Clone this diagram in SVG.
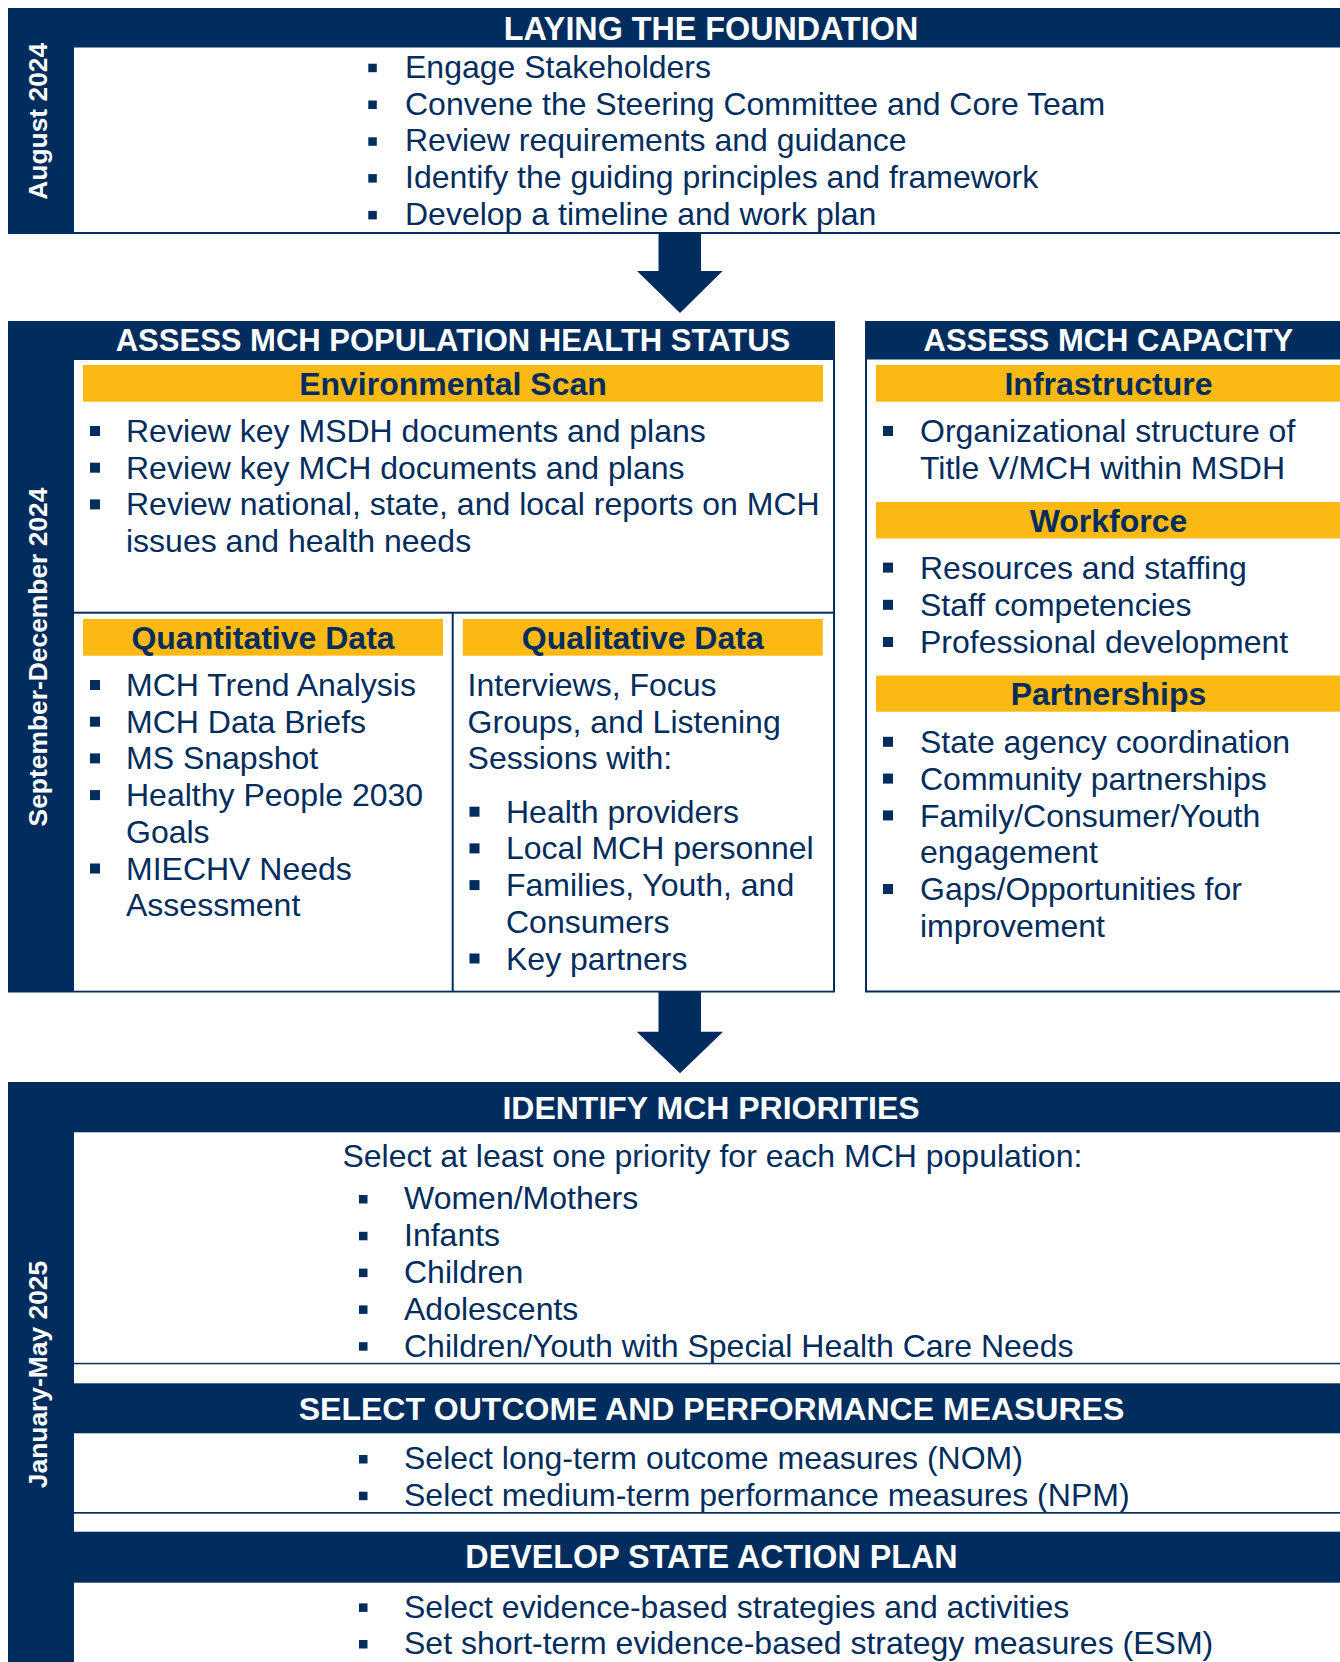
<svg xmlns="http://www.w3.org/2000/svg" width="1340" height="1662" viewBox="0 0 1340 1662">
<style>
.navy{fill:#002D5D}
.white{fill:#FFFFFF}
.yel{fill:#FDB913}
.hd{font-family:"Liberation Sans",Arial,sans-serif;font-weight:bold;fill:#FFFFFF;text-anchor:middle}
.sub{font-family:"Liberation Sans",Arial,sans-serif;font-weight:bold;font-size:32px;fill:#002D5D;text-anchor:middle}
.tx{font-family:"Liberation Sans",Arial,sans-serif;font-size:32px;fill:#002D5D}
.side{font-family:"Liberation Sans",Arial,sans-serif;font-weight:bold;font-size:26.4px;fill:#FFFFFF;text-anchor:middle}
.b{fill:#002D5D}
</style>
<rect x="0" y="0" width="1340" height="1662" fill="#FFFFFF"/>

<g id="laying-foundation">
<rect class="navy" x="8" y="8" width="1332" height="226"/>
<rect class="white" x="74" y="47.5" width="1266" height="184.5"/>
<text class="side" transform="translate(47,121.3) rotate(-90)">August 2024</text>
<text class="hd" x="711" y="39.5" font-size="32.3">LAYING THE FOUNDATION</text>
<g transform="translate(0,1)">
<rect class="b" x="368.3" y="62.7" width="8.5" height="8.5"/>
<text class="tx" x="405" y="76.7">Engage Stakeholders</text>
<rect class="b" x="368.3" y="99.5" width="8.5" height="8.5"/>
<text class="tx" x="405" y="113.5">Convene the Steering Committee and Core Team</text>
<rect class="b" x="368.3" y="136.3" width="8.5" height="8.5"/>
<text class="tx" x="405" y="150.3">Review requirements and guidance</text>
<rect class="b" x="368.3" y="173.1" width="8.5" height="8.5"/>
<text class="tx" x="405" y="187.1">Identify the guiding principles and framework</text>
<rect class="b" x="368.3" y="209.9" width="8.5" height="8.5"/>
<text class="tx" x="405" y="223.9">Develop a timeline and work plan</text>
</g>
</g>

<g id="assess-population-health">
<rect class="navy" x="8" y="321" width="827" height="671.5"/>
<rect class="white" x="74" y="360" width="759" height="251.7"/>
<rect class="white" x="74" y="613.7" width="377.7" height="377"/>
<rect class="white" x="453.7" y="613.7" width="379.3" height="377"/>
<text class="side" transform="translate(47,657) rotate(-90)">September-December 2024</text>
<text class="hd" x="453" y="350.5" font-size="31">ASSESS MCH POPULATION HEALTH STATUS</text>
</g>

<g id="environmental-scan">
<rect class="yel" x="83" y="365" width="740" height="36.7"/>
<text class="sub" x="453" y="395">Environmental Scan</text>
<g transform="translate(0,1)">
<rect class="b" x="90" y="425" width="10" height="10"/>
<text class="tx" x="126" y="441">Review key MSDH documents and plans</text>
<rect class="b" x="90" y="461.7" width="10" height="10"/>
<text class="tx" x="126" y="477.7">Review key MCH documents and plans</text>
<rect class="b" x="90" y="498.4" width="10" height="10"/>
<text class="tx" x="126" y="514.4">Review national, state, and local reports on MCH</text>
<text class="tx" x="126" y="551.1">issues and health needs</text>
</g>
</g>

<g id="quantitative-data">
<rect class="yel" x="83" y="619" width="360" height="36.7"/>
<text class="sub" x="263" y="648.7">Quantitative Data</text>
<g transform="translate(0,1)">
<rect class="b" x="90" y="679" width="10" height="10"/>
<text class="tx" x="126" y="695">MCH Trend Analysis</text>
<rect class="b" x="90" y="715.7" width="10" height="10"/>
<text class="tx" x="126" y="731.7">MCH Data Briefs</text>
<rect class="b" x="90" y="752.4" width="10" height="10"/>
<text class="tx" x="126" y="768.4">MS Snapshot</text>
<rect class="b" x="90" y="789.1" width="10" height="10"/>
<text class="tx" x="126" y="805.1">Healthy People 2030</text>
<text class="tx" x="126" y="841.8">Goals</text>
<rect class="b" x="90" y="862.5" width="10" height="10"/>
<text class="tx" x="126" y="878.5">MIECHV Needs</text>
<text class="tx" x="126" y="915.2">Assessment</text>
</g>
</g>

<g id="qualitative-data">
<rect class="yel" x="462.8" y="619" width="360" height="36.7"/>
<text class="sub" x="642.8" y="648.7">Qualitative Data</text>
<g transform="translate(0,1)">
<text class="tx" x="467.6" y="695">Interviews, Focus</text>
<text class="tx" x="467.6" y="731.7">Groups, and Listening</text>
<text class="tx" x="467.6" y="768.4">Sessions with:</text>
<rect class="b" x="469.5" y="805.7" width="10" height="10"/>
<text class="tx" x="506" y="821.7">Health providers</text>
<rect class="b" x="469.5" y="842.4" width="10" height="10"/>
<text class="tx" x="506" y="858.4">Local MCH personnel</text>
<rect class="b" x="469.5" y="879.1" width="10" height="10"/>
<text class="tx" x="506" y="895.1">Families, Youth, and</text>
<text class="tx" x="506" y="931.8">Consumers</text>
<rect class="b" x="469.5" y="952.5" width="10" height="10"/>
<text class="tx" x="506" y="968.5">Key partners</text>
</g>
</g>

<g id="assess-capacity">
<rect class="navy" x="865" y="321" width="475" height="671.5"/>
<rect class="white" x="867" y="359.5" width="473" height="631"/>
<text class="hd" x="1108.4" y="350.8" font-size="31">ASSESS MCH CAPACITY</text>
<rect class="yel" x="876" y="365" width="464" height="36.7"/>
<text class="sub" x="1108.5" y="395">Infrastructure</text>
<rect class="yel" x="876" y="502" width="464" height="36.5"/>
<text class="sub" x="1108.5" y="532">Workforce</text>
<rect class="yel" x="876" y="675.5" width="464" height="36.2"/>
<text class="sub" x="1108.5" y="705.2">Partnerships</text>
<g transform="translate(0,1)">
<rect class="b" x="883" y="425" width="10" height="10"/>
<text class="tx" x="920" y="441.4">Organizational structure of</text>
<text class="tx" x="920" y="478">Title V/MCH within MSDH</text>
<rect class="b" x="883" y="561.6" width="10" height="10"/>
<text class="tx" x="920" y="577.8">Resources and staffing</text>
<rect class="b" x="883" y="598.8" width="10" height="10"/>
<text class="tx" x="920" y="615">Staff competencies</text>
<rect class="b" x="883" y="636" width="10" height="10"/>
<text class="tx" x="920" y="652.2">Professional development</text>
<rect class="b" x="883" y="735.8" width="10" height="10"/>
<text class="tx" x="920" y="752">State agency coordination</text>
<rect class="b" x="883" y="772.6" width="10" height="10"/>
<text class="tx" x="920" y="788.8">Community partnerships</text>
<rect class="b" x="883" y="809.4" width="10" height="10"/>
<text class="tx" x="920" y="825.6">Family/Consumer/Youth</text>
<text class="tx" x="920" y="862.4">engagement</text>
<rect class="b" x="883" y="883" width="10" height="10"/>
<text class="tx" x="920" y="899.2">Gaps/Opportunities for</text>
<text class="tx" x="920" y="936">improvement</text>
</g>
</g>

<g id="priorities-block">
<rect class="navy" x="8" y="1082" width="1332" height="580"/>
<rect class="white" x="74" y="1132.3" width="1266" height="230.5"/>
<rect class="white" x="74" y="1364.3" width="1266" height="19"/>
<rect class="white" x="74" y="1433.3" width="1266" height="78.7"/>
<rect class="white" x="74" y="1513.7" width="1266" height="18"/>
<rect class="white" x="74" y="1582.7" width="1266" height="80"/>
<text class="side" transform="translate(47,1374.5) rotate(-90)">January-May 2025</text>
</g>

<g id="identify-priorities">
<text class="hd" x="711" y="1119" font-size="32">IDENTIFY MCH PRIORITIES</text>
<g transform="translate(0,1)">
<text class="tx" x="342.4" y="1165.5">Select at least one priority for each MCH population:</text>
<rect class="b" x="359" y="1194" width="8.5" height="8.5"/>
<text class="tx" x="404" y="1208.3">Women/Mothers</text>
<rect class="b" x="359" y="1230.8" width="8.5" height="8.5"/>
<text class="tx" x="404" y="1245.1">Infants</text>
<rect class="b" x="359" y="1267.6" width="8.5" height="8.5"/>
<text class="tx" x="404" y="1281.9">Children</text>
<rect class="b" x="359" y="1304.4" width="8.5" height="8.5"/>
<text class="tx" x="404" y="1318.7">Adolescents</text>
<rect class="b" x="359" y="1341.2" width="8.5" height="8.5"/>
<text class="tx" x="404" y="1355.5">Children/Youth with Special Health Care Needs</text>
</g>
</g>

<g id="select-measures">
<text class="hd" x="711.5" y="1420" font-size="32">SELECT OUTCOME AND PERFORMANCE MEASURES</text>
<g transform="translate(0,1)">
<rect class="b" x="359" y="1454" width="8.5" height="8.5"/>
<text class="tx" x="404" y="1468.3">Select long-term outcome measures (NOM)</text>
<rect class="b" x="359" y="1490.7" width="8.5" height="8.5"/>
<text class="tx" x="404" y="1505">Select medium-term performance measures (NPM)</text>
</g>
</g>

<g id="action-plan">
<text class="hd" x="711.5" y="1568.3" font-size="32.3">DEVELOP STATE ACTION PLAN</text>
<g transform="translate(0,1)">
<rect class="b" x="359" y="1602.4" width="8.5" height="8.5"/>
<text class="tx" x="404" y="1616.7">Select evidence-based strategies and activities</text>
<rect class="b" x="359" y="1639" width="8.5" height="8.5"/>
<text class="tx" x="404" y="1653.3">Set short-term evidence-based strategy measures (ESM)</text>
</g>
</g>

<g id="connectors">
<polygon class="navy" points="658.5,233 701,233 701,271 722.6,271 680,313 637,271 658.5,271"/>
<polygon class="navy" points="658.5,992 701,992 701,1031.7 723,1031.7 680,1073.3 636.7,1031.7 658.5,1031.7"/>
</g>
</svg>
